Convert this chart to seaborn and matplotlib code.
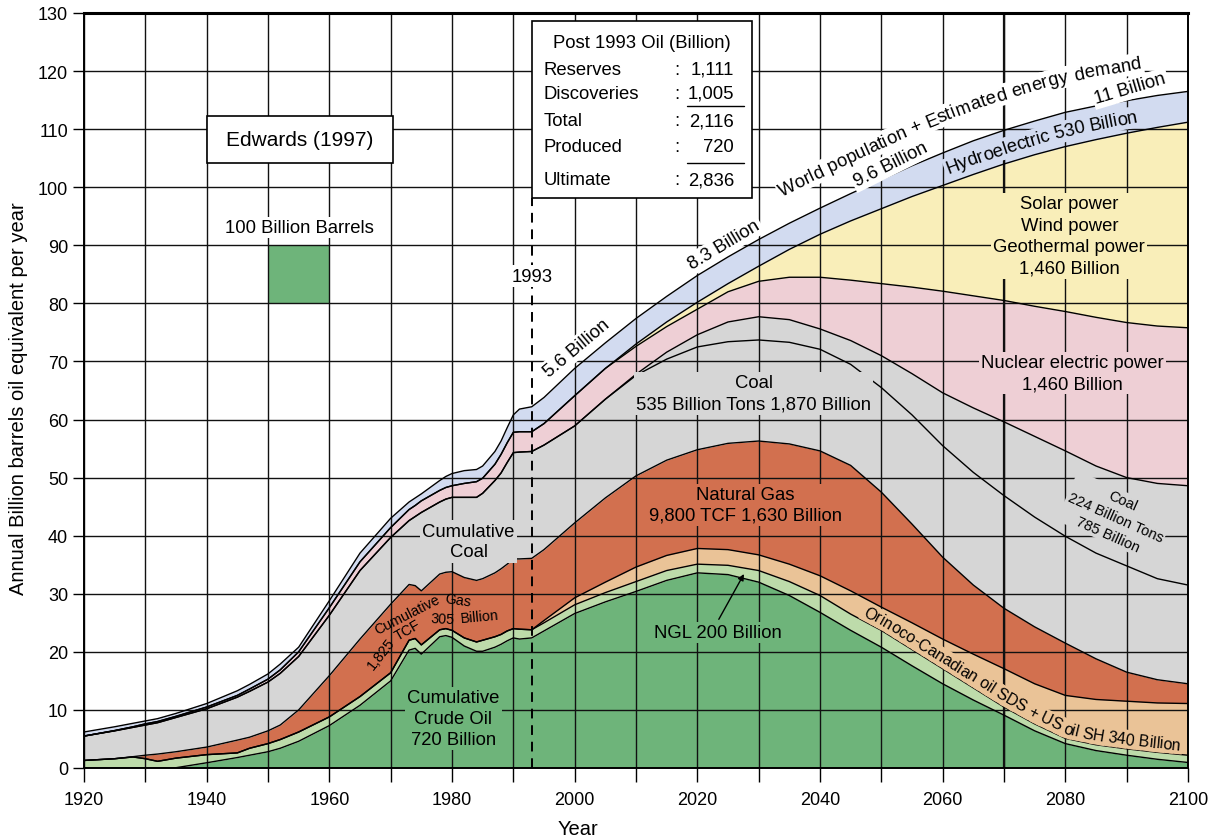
import matplotlib
matplotlib.use("Agg")
import numpy as np
import matplotlib.pyplot as plt
import seaborn as sns
from matplotlib.patches import Rectangle
from matplotlib.transforms import IdentityTransform
from matplotlib.font_manager import FontProperties, findfont, get_font
from matplotlib.ft2font import LoadFlags
from matplotlib.ticker import MultipleLocator

# ---------------------------------------------------------------------------
# Stacked world energy supply, billion barrels oil equivalent per year.
# Each list holds the upper edge of one band of the stack.
# ---------------------------------------------------------------------------
YEARS = [1920, 1925, 1928, 1930, 1932, 1935, 1940, 1945, 1947, 1950,
         1952, 1955, 1960, 1965, 1970, 1973, 1974, 1975, 1978, 1979,
         1980, 1982, 1984, 1985, 1987, 1988, 1989, 1990, 1991, 1993,
         1995, 2000, 2005, 2010, 2015, 2020, 2025, 2030, 2035, 2040,
         2045, 2050, 2055, 2060, 2065, 2070, 2075, 2080, 2085, 2090,
         2095, 2100]

crude_oil = [0, 0, 0, 0, 0, 0.05, 0.9, 1.8, 2.2, 2.8,
             3.4, 4.6, 7.3, 10.8, 15.0, 20.3, 20.6, 19.6, 22.6, 22.8,
             22.5, 21.0, 20.1, 20.1, 20.8, 21.3, 21.9, 22.4, 22.2, 22.4,
             23.6, 26.6, 28.6, 30.4, 32.3, 33.6, 33.3, 32.0, 29.7, 26.8,
             23.7, 20.8, 17.6, 14.5, 11.7, 9.1, 6.4, 4.2, 3.0, 2.2,
             1.5, 0.95]

ngl_top = [1.3, 1.6, 1.9, 1.6, 1.15, 1.7, 2.3, 2.6, 3.4, 4.2,
           4.9, 6.2, 8.8, 12.3, 16.4, 22.0, 22.3, 21.2, 23.8, 24.0,
           23.7, 22.4, 21.7, 22.0, 22.6, 23.0, 23.6, 24.0, 23.9, 23.8,
           25.0, 28.1, 30.2, 32.1, 34.0, 35.1, 34.9, 34.0, 32.1, 29.7,
           26.5, 23.7, 20.4, 17.1, 13.8, 10.5, 7.6, 5.1, 4.0, 3.3,
           2.7, 2.2]

heavy_oil_top = [1.3, 1.6, 1.9, 1.6, 1.15, 1.7, 2.3, 2.6, 3.4, 4.2,
                 4.9, 6.2, 8.8, 12.3, 16.4, 22.0, 22.3, 21.2, 23.8, 24.0,
                 23.7, 22.4, 21.7, 22.0, 22.6, 23.0, 23.6, 24.0, 23.9, 23.8,
                 25.4, 29.3, 32.0, 34.6, 36.6, 37.8, 37.6, 36.7, 35.1, 33.1,
                 30.5, 27.7, 25.0, 22.2, 19.6, 17.1, 14.5, 12.5, 11.8, 11.5,
                 11.2, 11.1]

gas_top = [1.3, 1.6, 1.95, 2.2, 2.4, 2.8, 3.6, 4.8, 5.3, 6.4,
           7.4, 10.0, 15.9, 22.2, 28.2, 31.6, 31.4, 30.5, 33.4, 33.7,
           33.8, 32.8, 32.3, 32.6, 33.6, 34.3, 35.1, 36.0, 36.0, 36.1,
           37.6, 42.2, 46.5, 50.3, 53.0, 54.8, 55.9, 56.3, 55.8, 54.6,
           52.1, 47.5, 42.0, 36.3, 31.5, 27.5, 24.3, 21.5, 18.8, 16.5,
           15.2, 14.5]

coal_first_tier = [5.5, 6.4, 7.0, 7.4, 7.8, 8.7, 10.2, 12.2, 13.2, 14.8,
                   16.3, 19.2, 26.3, 34.0, 39.7, 42.6, 43.3, 44.0, 45.8, 46.3,
                   46.6, 46.6, 46.6, 47.3, 49.5, 50.8, 52.6, 54.3, 54.4, 54.5,
                   55.6, 58.9, 63.5, 67.6, 70.4, 72.5, 73.4, 73.7, 73.3, 72.1,
                   69.5, 65.5, 60.8, 55.5, 50.9, 46.9, 43.2, 39.9, 37.0, 34.8,
                   32.6, 31.5]

coal_top = [5.5, 6.4, 7.0, 7.4, 7.8, 8.7, 10.2, 12.2, 13.2, 14.8,
            16.3, 19.2, 26.3, 34.0, 39.7, 42.6, 43.3, 44.0, 45.8, 46.3,
            46.6, 46.6, 46.6, 47.3, 49.5, 50.8, 52.6, 54.3, 54.4, 54.5,
            55.6, 58.9, 63.5, 67.8, 71.6, 74.6, 76.8, 77.7, 77.2, 75.6,
            73.6, 71.0, 67.9, 64.6, 62.0, 59.6, 57.1, 54.6, 52.0, 50.0,
            49.0, 48.6]

nuclear_top = [5.5, 6.45, 7.1, 7.6, 8.0, 8.9, 10.5, 12.5, 13.6, 15.3,
               16.9, 20.0, 27.6, 35.5, 41.4, 44.5, 45.2, 46.0, 47.8, 48.3,
               48.6, 49.0, 49.3, 49.9, 52.3, 54.0, 56.0, 57.8, 57.9, 57.9,
               59.3, 64.1, 68.8, 72.6, 76.0, 79.0, 82.0, 83.8, 84.5, 84.5,
               84.0, 83.4, 82.8, 82.1, 81.3, 80.5, 79.5, 78.6, 77.6, 76.7,
               76.1, 75.8]

renewables_top = [5.5, 6.45, 7.1, 7.6, 8.0, 8.9, 10.5, 12.5, 13.6, 15.3,
                  16.9, 20.0, 27.6, 35.5, 41.4, 44.5, 45.2, 46.0, 47.8, 48.3,
                  48.6, 49.0, 49.3, 49.9, 52.3, 54.0, 56.0, 57.8, 57.9, 57.9,
                  59.3, 64.1, 68.8, 73.0, 76.8, 80.2, 83.4, 86.4, 89.3, 91.9,
                  94.2, 96.3, 98.4, 100.3, 102.2, 104.0, 105.6, 107.0, 108.2, 109.3,
                  110.3, 111.2]

total_demand = [6.2, 7.1, 7.7, 8.1, 8.5, 9.4, 11.1, 13.3, 14.4, 16.2,
                17.9, 20.8, 28.8, 37.0, 43.0, 45.8, 46.5, 47.2, 49.5, 50.2,
                50.7, 51.2, 51.4, 52.0, 54.5, 56.3, 58.6, 60.8, 61.8, 62.2,
                63.8, 68.8, 73.2, 77.4, 81.2, 84.8, 88.0, 91.0, 93.8, 96.4,
                98.9, 101.3, 103.7, 105.9, 108.0, 109.8, 111.4, 112.9, 114.0, 114.9,
                115.8, 116.5]

GREEN = "#6eb47a"
LIGHT_GREEN = "#bddbaa"
PEACH = "#eac397"
GAS = "#d2704f"
GREY = "#d6d6d6"
PINK = "#eecfd5"
YELLOW = "#f9eeb9"
BLUE = "#d2dbf0"

# ---------------------------------------------------------------------------
sns.set_theme(style="white")
FONT = "Liberation Sans"
plt.rcParams["font.family"] = [FONT, "DejaVu Sans"]
plt.rcParams["text.color"] = "black"

W, H = 1217, 837
fig = plt.figure(figsize=(W / 100, H / 100), dpi=100)
ax = fig.add_axes([84 / W, 1 - 769 / H, 1104 / W, 755 / H])
ax.set_xlim(1920, 2100)
ax.set_ylim(0, 130)

x = np.asarray(YEARS, dtype=float)
edges = [np.zeros_like(x), crude_oil, ngl_top, heavy_oil_top, gas_top,
         coal_top, nuclear_top, renewables_top, total_demand]
fills = [GREEN, LIGHT_GREEN, PEACH, GAS, GREY, PINK, YELLOW, BLUE]
for lo, hi, c in zip(edges[:-1], edges[1:], fills):
    ax.fill_between(x, lo, hi, color=c, lw=0, zorder=1)

for edge in [crude_oil, ngl_top, heavy_oil_top, gas_top, coal_first_tier,
             coal_top, nuclear_top, renewables_top, total_demand]:
    sns.lineplot(x=x, y=np.asarray(edge, float), color="black", lw=1.0,
                 ax=ax, zorder=3, legend=False)

# grid, ticks, frame
ax.xaxis.set_major_locator(MultipleLocator(20))
ax.xaxis.set_minor_locator(MultipleLocator(10))
ax.yaxis.set_major_locator(MultipleLocator(10))
ax.set_axisbelow(False)
ax.grid(which="both", axis="x", color="#111111", lw=1.0)
ax.grid(which="major", axis="y", color="#111111", lw=1.0)
ax.axvline(2070, color="#111111", lw=1.6, zorder=2.6)
ax.tick_params(axis="x", which="both", bottom=True, direction="out",
               length=10, width=1, color="black", labelsize=13,
               labelcolor="black", pad=6.5)
ax.tick_params(axis="y", which="both", left=True, direction="out",
               length=8, width=1, color="black", labelsize=13,
               labelcolor="black", pad=3.5)
for name, sp in ax.spines.items():
    sp.set_color("black")
    sp.set_linewidth(2.2 if name == "top" else 1.4)
    sp.set_zorder(4)

ax.set_xlabel("Year", fontsize=14.5, color="black")
ax.xaxis.set_label_coords(0.447, -0.067)
ax.set_ylabel("Annual Billion barrels oil equivalent per year",
              fontsize=14.5, color="black")
ax.yaxis.set_label_coords(-0.051, 0.49)

FS = 13.3


def label(xv, yv, s, bg=None, fs=FS, rot=0, ls=1.3, z=6):
    box = dict(boxstyle="square,pad=0.12", fc=bg, ec="none") if bg else None
    ax.text(xv, yv, s, fontsize=fs, ha="center", va="center", rotation=rot,
            rotation_mode="anchor", multialignment="center", linespacing=ls,
            color="black", zorder=z, bbox=box)


def advances(s, fp):
    """Horizontal pen position and advance of every character, in pixels."""
    font = get_font(findfont(fp))
    font.set_size(fp.get_size_in_points(), fig.dpi)
    pos, out, prev = 0.0, [], None
    for ch in s:
        gi = font.get_char_index(ord(ch))
        if prev is not None:
            pos += font.get_kerning(prev, gi, 0) / 64
        g = font.load_glyph(gi, flags=LoadFlags.NO_HINTING)
        a = g.linearHoriAdvance / 65536
        out.append((pos, a))
        pos += a
        prev = gi
    return out, pos


def text_along(s, xs, ys, x_start, offset, fs, bg):
    """Lay a string out letter by letter along a data curve.

    offset is the baseline distance from the curve in pixels, either one
    number or (fractions, distances) varying along the string."""
    fp = FontProperties(family=FONT, size=fs)
    pts = ax.transData.transform(np.column_stack([xs, ys]))
    arc = np.concatenate([[0.0], np.cumsum(np.hypot(np.diff(pts[:, 0]),
                                                     np.diff(pts[:, 1])))])
    x0 = ax.transData.transform((x_start, 0))[0]
    L0 = np.interp(x0, pts[:, 0], arc)
    layout, total = advances(s, fp)
    fr, offs = offset if isinstance(offset, tuple) else ([0, 1], [offset, offset])
    at = lambda L, k: np.interp(L, arc, pts[:, k])
    for ch, (p, a) in zip(s, layout):
        L = L0 + p + a / 2
        px, py = at(L, 0), at(L, 1)
        tx, ty = at(L + 12, 0) - at(L - 12, 0), at(L + 12, 1) - at(L - 12, 1)
        n = np.hypot(tx, ty)
        tx, ty = tx / n, ty / n
        o = np.interp((p + a / 2) / total, fr, offs)
        qx, qy = px - ty * o, py + tx * o
        ang = np.degrees(np.arctan2(ty, tx))
        common = dict(transform=IdentityTransform(), fontproperties=fp,
                      rotation=ang, rotation_mode="anchor", ha="center",
                      va="baseline")
        if bg:
            ax.text(qx, qy, "n" if ch == " " else ch, color="none", zorder=5,
                    bbox=dict(boxstyle="square,pad=0.12", fc=bg, ec="none"),
                    **common)
        if ch != " ":
            ax.text(qx, qy, ch, color="black", zorder=6, **common)


# legend-like scale box
ax.add_patch(Rectangle((1950, 80), 10, 10, fc=GREEN, ec="none", zorder=2))
label(1955.2, 93.1, "100 Billion Barrels", bg="white")
ax.add_patch(Rectangle((1940.1, 104.2), 30.3, 8.1, fc="white", ec="black",
                       lw=1.2, zorder=7))
ax.text(1955.2, 108.2, "Edwards (1997)", fontsize=15, ha="center",
        va="center", zorder=8)

# 1993 marker
ax.vlines(1993, 0, 98.2, colors="black", lw=1.4, linestyles=(0, (5, 3.5)),
          zorder=4)
label(1993.05, 84.7, "1993", bg="white")

# post-1993 oil table
ax.add_patch(Rectangle((1993.1, 98.2), 35.8, 30.4, fc="white", ec="black",
                       lw=1.2, zorder=7))
ax.text(2011.0, 124.97, "Post 1993 Oil (Billion)", fontsize=FS, ha="center",
        va="center", zorder=8)
rows = [("Reserves", "1,111", 120.35), ("Discoveries", "1,005", 116.17),
        ("Total", "2,116", 111.45), ("Produced", "720", 106.94),
        ("Ultimate", "2,836", 101.29)]
for name, val, yv in rows:
    ax.text(1995.0, yv, name, fontsize=FS, ha="left", va="center", zorder=8)
    ax.text(2016.6, yv, ":", fontsize=FS, ha="center", va="center", zorder=8)
    ax.text(2026.0, yv, val, fontsize=FS, ha="right", va="center", zorder=8)
for yv in (113.93, 104.12):
    ax.plot([2018.3, 2027.6], [yv, yv], color="black", lw=1.0, zorder=8)

# band labels
label(1980.2, 8.5, "Cumulative\nCrude Oil\n720 Billion", bg=GREEN)
label(1982.7, 39.0, "Cumulative\nCoal", bg=GREY)
label(2029.2, 64.5, "Coal\n535 Billion Tons 1,870 Billion", bg=GREY)
label(2027.85, 45.3, "Natural Gas\n9,800 TCF 1,630 Billion", bg=GAS)
label(2080.65, 91.65, "Solar power\nWind power\nGeothermal power\n1,460 Billion",
      bg=YELLOW, ls=1.34)
label(2081.15, 68.0, "Nuclear electric power\n1,460 Billion", bg=PINK)
label(2088.2, 43.2, "Coal\n224 Billion Tons\n785 Billion", bg=GREY, fs=10.5,
      rot=-24, ls=1.4)
label(2023.4, 23.3, "NGL 200 Billion", bg=GREEN)
ax.annotate("", xy=(2027.6, 33.4), xytext=(2023.5, 25.6),
            arrowprops=dict(arrowstyle="-|>", color="black", lw=1.0,
                            mutation_scale=9, shrinkA=0, shrinkB=0),
            zorder=6)

for s, xv, yv, r in [("Cumulative", 1972.66, 26.5, 27), ("Gas", 1980.98, 28.9, -8),
                     ("1,825", 1968.42, 19.8, 52), ("TCF", 1972.83, 23.8, 30),
                     ("305", 1978.53, 25.8, -3), ("Billion", 1984.57, 26.2, 5)]:
    label(xv, yv, s, fs=10.3, rot=r)

# population milestones along the demand curve
label(2000.3, 72.3, "5.6 Billion", bg="white", rot=40)
label(2024.4, 90.1, "8.3 Billion", bg="white", rot=31)
label(2051.5, 103.9, "9.6 Billion", bg="white", rot=26.5)
label(2090.6, 117.0, "11 Billion", bg="white", rot=16.5)

total_arr = np.asarray(total_demand, float)
text_along("World population + Estimated energy demand", x, total_arr,
           2035.8, ([0, 0.5, 1], [28, 30, 30]), FS, "white")
hydro_mid = (np.asarray(renewables_top, float) + total_arr) / 2
text_along("Hydroelectric 530 Billion", x, hydro_mid, 2060.6, -6, FS, BLUE)
text_along("Orinoco-Canadian oil SDS + US oil SH 340 Billion", x,
           np.asarray(ngl_top, float), 2046.5, 5, 11.5, PEACH)

fig.savefig("out.png", dpi=100)
